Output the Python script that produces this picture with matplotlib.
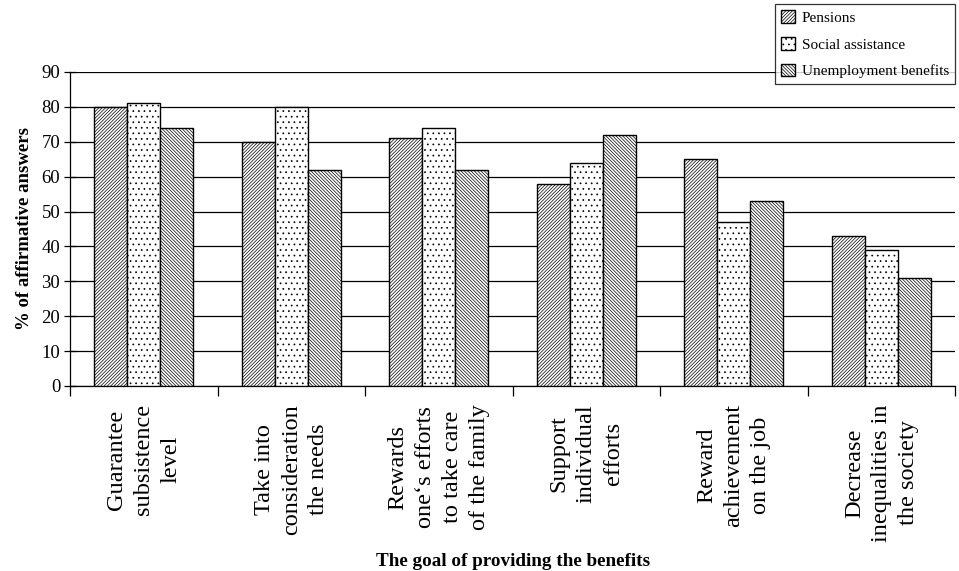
import matplotlib
matplotlib.use("Agg")
import matplotlib.pyplot as plt
import numpy as np

plt.rcParams['font.family'] = ['Liberation Serif', 'DejaVu Serif']
plt.rcParams['hatch.linewidth'] = 0.5

categories = ["Guarantee\nsubsistence\nlevel",
              "Take into\nconsideration\nthe needs",
              "Rewards\none\u2018s efforts\nto take care\nof the family",
              "Support\nindividual\nefforts",
              "Reward\nachievement\non the job",
              "Decrease\ninequalities in\nthe society"]
series_names = ["Pensions", "Social assistance", "Unemployment benefits"]
pensions = [80, 70, 71, 58, 65, 43]
social = [81, 80, 74, 64, 47, 39]
unemployment = [74, 62, 62, 72, 53, 31]
yticks = list(range(0, 91, 10))

fig = plt.figure(figsize=(9.59, 5.71), dpi=100)
ax = fig.add_axes([0.073, 0.324, 0.923, 0.55])

x = np.arange(len(categories))
w = 0.224
hatches = ['//////////', '...', '\\\\\\\\\\\\\\\\\\\\']
for i, (vals, name, h) in enumerate(zip([pensions, social, unemployment], series_names, hatches)):
    ax.bar(x + (i - 1) * w, vals, w, facecolor='white', edgecolor='black',
           hatch=h, linewidth=1.0, label=name, zorder=3)

ax.set_xlim(-0.5, len(categories) - 0.5)
ax.set_ylim(0, 90)
ax.set_yticks(yticks)
ax.yaxis.grid(True, color='black', linewidth=0.9, zorder=0)
ax.set_axisbelow(True)
for s in ['top', 'right']:
    ax.spines[s].set_visible(False)
ax.spines['left'].set_linewidth(0.9)
ax.spines['bottom'].set_linewidth(0.9)
ax.tick_params(axis='y', direction='inout', length=8, width=0.9, labelsize=13.5, pad=3)

ax.set_xticks(np.arange(len(categories) + 1) - 0.5)
ax.set_xticklabels([])
ax.tick_params(axis='x', direction='out', length=7, width=0.9)
for xi, lab in zip(x, categories):
    ax.text(xi, -5.2, lab, rotation=90, ha='center', va='top', fontsize=17.5,
            multialignment='center', linespacing=1.38)

ax.set_ylabel("% of affirmative answers", fontsize=13.5, fontweight='bold', labelpad=6)
fig.text(0.535, 0.0175, "The goal of providing the benefits", ha='center', va='center',
         fontsize=13.8, fontweight='bold')

leg = fig.legend(loc='upper right', bbox_to_anchor=(0.996, 0.993), fontsize=11,
                 frameon=True, fancybox=False, edgecolor='black', handlelength=0.9,
                 handleheight=0.9, handletextpad=0.45, borderpad=0.4, labelspacing=0.8,
                 borderaxespad=0)
leg.get_frame().set_linewidth(0.9)

fig.savefig("out.png", dpi=100)
